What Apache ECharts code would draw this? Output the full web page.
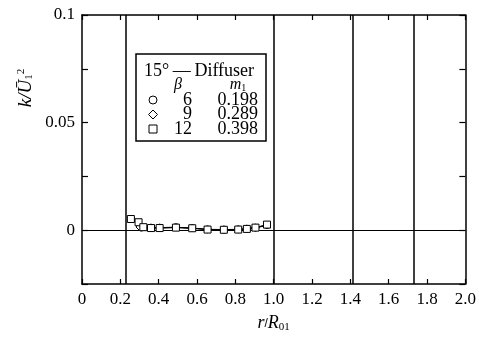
<!DOCTYPE html>
<html><head><meta charset="utf-8">
<script src="https://cdn.jsdelivr.net/npm/echarts@6/dist/echarts.min.js"></script>
<style>html,body{margin:0;padding:0;background:#fff}#c{width:479px;height:338px}</style>
</head><body><div id="c"></div>
<script>
// x = r/R01, y = k/U1^2
const beta6_x = [0.31, 0.36, 0.405, 0.49, 0.575, 0.655, 0.74, 0.815, 0.86, 0.905, 0.965];
const beta6_y = [0.0012, 0.0012, 0.0012, 0.0014, 0.001, 0.0004, 0.0003, 0.0004, 0.0007, 0.0012, 0.0024];
const beta9_x = [0.30, 0.36, 0.405, 0.49, 0.575, 0.655, 0.74, 0.815, 0.86, 0.905, 0.965];
const beta9_y = [0.0015, 0.0011, 0.0011, 0.0013, 0.0009, 0.0003, 0.0002, 0.0003, 0.0006, 0.0011, 0.0022];
const beta12_x = [0.255, 0.295, 0.32, 0.36, 0.405, 0.49, 0.575, 0.655, 0.74, 0.815, 0.86, 0.905, 0.965];
const beta12_y = [0.0052, 0.0037, 0.0014, 0.001, 0.001, 0.0012, 0.0009, 0.0003, 0.0002, 0.0003, 0.0006, 0.0012, 0.0026];
const xTicks = [0, 0.2, 0.4, 0.6, 0.8, 1.0, 1.2, 1.4, 1.6, 1.8, 2.0];
const yLabels = [0, 0.05, 0.1];
const vLines = [0.232, 1.0, 1.414, 1.732];
const legendTitle = '15°\u2009\u2014\u2009Diffuser';
const legendBeta = ['6', '9', '12'];
const legendM = ['0.198', '0.289', '0.398'];
const legendSymbols = ['circle', 'diamond', 'rect'];

const FONT = 'Liberation Serif';
const chart = echarts.init(document.getElementById('c'));
const zip = (xs, ys) => xs.map((x, i) => [x, ys[i]]);
const mkSeries = (name, xs, ys, sym, size) => ({
  name, type: 'line', data: zip(xs, ys), symbol: sym, symbolSize: size,
  showAllSymbol: true,
  itemStyle: { color: '#fff', borderColor: '#000', borderWidth: 1 },
  lineStyle: { color: '#000', width: 1 }, z: 5
});
const series = [
  mkSeries('β=6', beta6_x, beta6_y, 'circle', 7),
  mkSeries('β=9', beta9_x, beta9_y, 'diamond', 7),
  mkSeries('β=12', beta12_x, beta12_y, 'rect', 7),
  { type: 'line', data: [], silent: true,
    markLine: { symbol: 'none', silent: true, label: { show: false },
      lineStyle: { color: '#000', width: 1.5, type: 'solid' },
      data: vLines.map(v => ({ xAxis: v })).concat([{ yAxis: 0, lineStyle: { width: 1 } }]) } }
];

// legend box via graphic
const bx = 136, by = 54, bw = 130, bh = 87;
const graphic = [
  { type: 'rect', shape: { x: bx, y: by, width: bw, height: bh }, style: { fill: '#fff', stroke: '#000', lineWidth: 1.5 }, z: 10 },
  { type: 'text', x: 199, y: 71, style: { text: legendTitle, font: '18px "' + FONT + '"', fill: '#000', align: 'center', verticalAlign: 'middle' }, z: 11 },
  { type: 'text', x: 178, y: 85, style: { text: 'β', font: 'italic 16px "' + FONT + '"', fill: '#000', align: 'center', verticalAlign: 'middle' }, z: 11 },
  { type: 'text', x: 238, y: 85, style: { rich: { a: { font: 'italic 16px "' + FONT + '"', fill: '#000' }, b: { font: '10px "' + FONT + '"', fill: '#000', padding: [6, 0, 0, 0] } }, text: '{a|m}{b|1}', align: 'center', verticalAlign: 'middle' }, z: 11 }
];
const rowsY = [100, 114.5, 129];
legendSymbols.forEach((s, i) => {
  const cx = 153, cy = rowsY[i];
  if (s === 'circle') graphic.push({ type: 'circle', shape: { cx, cy, r: 4 }, style: { fill: '#fff', stroke: '#000', lineWidth: 1 }, z: 11 });
  else if (s === 'diamond') graphic.push({ type: 'polygon', shape: { points: [[cx, cy - 4.5], [cx + 4.5, cy], [cx, cy + 4.5], [cx - 4.5, cy]] }, style: { fill: '#fff', stroke: '#000', lineWidth: 1 }, z: 11 });
  else graphic.push({ type: 'rect', shape: { x: cx - 4, y: cy - 4, width: 8, height: 8 }, style: { fill: '#fff', stroke: '#000', lineWidth: 1 }, z: 11 });
  graphic.push({ type: 'text', x: 192, y: cy, style: { text: legendBeta[i], font: '18px "' + FONT + '"', fill: '#000', align: 'right', verticalAlign: 'middle' }, z: 11 });
  graphic.push({ type: 'text', x: 258, y: cy, style: { text: legendM[i], font: '18px "' + FONT + '"', fill: '#000', align: 'right', verticalAlign: 'middle' }, z: 11 });
});
// y axis title
graphic.push({ type: 'text', x: 26, y: 88, rotation: Math.PI / 2,
  style: { rich: { a: { font: 'italic 19px "' + FONT + '"', fill: '#000' }, s: { font: '11px "' + FONT + '"', fill: '#000', padding: [0, 0, 9, 0] }, d: { font: '11px "' + FONT + '"', fill: '#000', padding: [7, 0, 0, 0] } },
    text: '{a|k/Ū}{d|1}{s|2}', align: 'center', verticalAlign: 'middle' }, z: 11 });

const axisLine = { show: true, onZero: false, lineStyle: { color: '#000', width: 1.5 } };
chart.setOption({
  animation: false,
  backgroundColor: '#fff',
  grid: { left: 82, right: 9, top: 15, bottom: 50 },
  xAxis: [
    { type: 'value', min: 0, max: 2, interval: 0.2, position: 'bottom', axisLine,
      axisTick: { show: true, inside: true, length: 5, lineStyle: { color: '#000', width: 1.2 } },
      splitLine: { show: false },
      axisLabel: { color: '#000', fontFamily: FONT, fontSize: 17, margin: 7,
        formatter: v => { const t = xTicks.find(k => Math.abs(k - v) < 1e-6); return t === undefined ? '' : (t === 0 ? '0' : t.toFixed(1)); } },
      name: '{i|r}/{i|R}{s|01}', nameLocation: 'middle', nameGap: 30,
      nameTextStyle: { rich: { i: { fontFamily: FONT, fontStyle: 'italic', fontSize: 18, color: '#000' }, s: { fontFamily: FONT, fontSize: 11, color: '#000', padding: [8, 0, 0, 0] } } } },
    { type: 'value', min: 0, max: 2, interval: 0.2, position: 'top', axisLine,
      axisTick: { show: true, inside: true, length: 5, lineStyle: { color: '#000', width: 1.2 } },
      axisLabel: { show: false }, splitLine: { show: false } }
  ],
  yAxis: [
    { type: 'value', min: -0.025, max: 0.1, interval: 0.025, position: 'left', axisLine,
      axisTick: { show: true, inside: true, length: 6, lineStyle: { color: '#000', width: 1.2 } },
      splitLine: { show: false },
      axisLabel: { color: '#000', fontFamily: FONT, fontSize: 17, margin: 7,
        formatter: v => { const t = yLabels.find(k => Math.abs(k - v) < 1e-9); return t === undefined ? '' : String(t); } } },
    { type: 'value', min: -0.025, max: 0.1, interval: 0.025, position: 'right', axisLine,
      axisTick: { show: true, inside: true, length: 6, lineStyle: { color: '#000', width: 1.2 } },
      axisLabel: { show: false }, splitLine: { show: false } }
  ],
  series,
  graphic
});
</script></body></html>
